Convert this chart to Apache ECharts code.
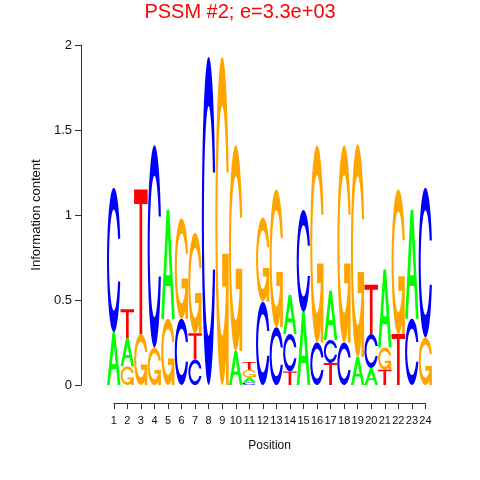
<!DOCTYPE html>
<html>
<head>
<meta charset="utf-8">
<script src="https://cdn.jsdelivr.net/npm/echarts@6/dist/echarts.min.js"></script>
<style>
html,body{margin:0;padding:0;background:#ffffff;}
#chart{width:480px;height:480px;}
</style>
</head>
<body>
<div id="chart"></div>
<script>
const titleText = 'PSSM #2; e=3.3e+03';
const positions = [1,2,3,4,5,6,7,8,9,10,11,12,13,14,15,16,17,18,19,20,21,22,23,24];
const bitsA = [0.31,0.165,0,0,0.64,0,0,0,0,0.20,0.03,0,0,0.23,0.43,0,0.29,0,0.165,0.10,0.46,0,0.64,0];
const bitsC = [0.85,0,0,1.19,0,0.39,0.15,1.93,0,0,0.015,0.49,0.34,0.22,0.60,0.25,0.135,0.25,0,0.20,0,0,0.39,0.88];
const bitsG = [0,0.11,0.30,0.22,0.39,0.59,0.59,0,1.93,1.21,0.045,0.495,0.81,0,0,1.16,0,1.16,1.25,0,0.13,0.85,0,0.28];
const bitsT = [0,0.17,0.85,0,0,0,0.155,0,0,0,0.046,0,0,0.08,0,0,0.13,0,0,0.29,0.09,0.30,0,0];
const yTicks = [0,0.5,1,1.5,2];

const letters = ['A','C','G','T'];
const letterColors = {A:'#00FF00', C:'#0000FF', G:'#FFA500', T:'#FF0000'};
// glyph outlines in a 100x100 box (y down)
const glyphs = {
  A: 'M0 100 L40 0 L60 0 L100 100 L80 100 L68 70 L32 70 L20 100 Z M36 60 L64 60 L50 25 Z',
  C: 'M97.8 64.8 A50 50 0 1 1 97.8 35.2 L81.7 35.2 A35 35 0 1 0 81.7 64.8 Z',
  G: 'M97.8 64.8 A50 50 0 1 1 97.8 35.2 L81.7 35.2 A35 35 0 1 0 81.7 64.8 Z M97.8 60 L97.8 100 L77.8 100 L77.8 70 L50 70 L50 60 Z',
  T: 'M0 0 L100 0 L100 10 L60 10 L60 100 L40 100 L40 10 L0 10 Z'
};

const stackData = [];
positions.forEach(function (p, i) {
  const col = [['A', bitsA[i]], ['C', bitsC[i]], ['G', bitsG[i]], ['T', bitsT[i]]]
    .filter(function (d) { return d[1] > 0; })
    .sort(function (a, b) { return a[1] - b[1]; });
  let y = 0;
  col.forEach(function (d) {
    stackData.push([p, y, y + d[1], letters.indexOf(d[0])]);
    y += d[1];
  });
});

const FONT = "'Liberation Sans', Arial, Helvetica, sans-serif";
const chart = echarts.init(document.getElementById('chart'), null, {renderer: 'canvas'});
chart.setOption({
  animation: false,
  backgroundColor: '#ffffff',
  title: {
    text: titleText, left: 'center', top: 2, padding: 0,
    textStyle: {color: '#ff0000', fontSize: 20, fontWeight: 'normal', fontFamily: FONT}
  },
  grid: [
    {left: 107, right: 47.8, top: 45, bottom: 95},
    {left: 113.8, right: 54.55, top: 45, bottom: 95}
  ],
  xAxis: [
    {gridIndex: 0, type: 'value', min: 0.5, max: 24.5, show: false},
    {
      gridIndex: 1, type: 'value', min: 1, max: 24, interval: 1, offset: 18, position: 'bottom',
      axisLine: {show: true, onZero: false, lineStyle: {color: '#333333', width: 1}},
      axisTick: {show: true, length: 6, lineStyle: {color: '#333333', width: 1}},
      axisLabel: {show: true, fontSize: 11, margin: 12, color: '#111111', fontFamily: FONT, showMinLabel: true, showMaxLabel: true},
      splitLine: {show: false},
      name: 'Position', nameLocation: 'middle', nameGap: 37,
      nameTextStyle: {fontSize: 12, color: '#111111', fontFamily: FONT}
    }
  ],
  yAxis: [
    {
      gridIndex: 0, type: 'value', min: yTicks[0], max: yTicks[yTicks.length - 1], interval: 0.5, offset: 26,
      axisLine: {show: true, onZero: false, lineStyle: {color: '#333333', width: 1}},
      axisTick: {show: true, length: 6, lineStyle: {color: '#333333', width: 1}},
      axisLabel: {show: true, fontSize: 13, margin: 9, color: '#111111', fontFamily: FONT},
      splitLine: {show: false},
      name: 'Information content', nameLocation: 'middle', nameGap: 31,
      nameTextStyle: {fontSize: 13, color: '#111111', fontFamily: FONT}
    },
    {gridIndex: 1, type: 'value', min: 0, max: 2, show: false}
  ],
  series: [{
    type: 'custom',
    xAxisIndex: 0, yAxisIndex: 0,
    silent: true,
    encode: {x: 0, y: [1, 2]},
    data: stackData,
    renderItem: function (params, api) {
      const p = api.value(0), y0 = api.value(1), y1 = api.value(2), li = api.value(3);
      const tl = api.coord([p - 0.5, y1]);
      const br = api.coord([p + 0.5, y0]);
      const L = letters[li];
      return {
        type: 'path',
        x: tl[0], y: tl[1],
        scaleX: (br[0] - tl[0]) / 100,
        scaleY: (br[1] - tl[1]) / 100,
        shape: {pathData: glyphs[L]},
        style: {fill: letterColors[L], stroke: null}
      };
    }
  }]
});
</script>
</body>
</html>
